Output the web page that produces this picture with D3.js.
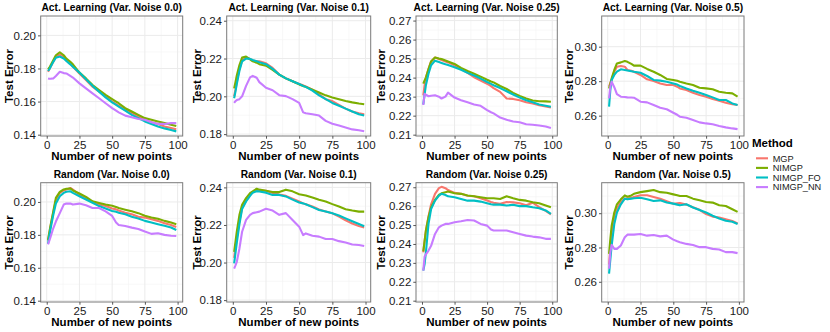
<!DOCTYPE html>
<html>
<head>
<meta charset="utf-8">
<script src="https://cdn.jsdelivr.net/npm/d3@7"></script>
<style>
  body { margin: 0; background: #fff; }
  svg { display: block; font-family: "Liberation Sans", Arial, Helvetica, sans-serif; }
</style>
</head>
<body>
<svg id="chart" width="830" height="332"></svg>
<script>
// DATA
var xs = [1, 2, 3, 5, 7, 10, 13, 15, 18, 20, 25, 30, 35, 40, 45, 50, 53, 55, 60, 65, 70, 75, 80, 85, 90, 95, 99];

var methods = ["MGP", "NIMGP", "NIMGP_FO", "NIMGP_NN"];

var titles = [
    "Act. Learning (Var. Noise 0.0)", "Act. Learning (Var. Noise 0.1)",
    "Act. Learning (Var. Noise 0.25)", "Act. Learning (Var. Noise 0.5)",
    "Random (Var. Noise 0.0)", "Random (Var. Noise 0.1)",
    "Random (Var. Noise 0.25)", "Random (Var. Noise 0.5)"
];

var xTicks = [0, 25, 50, 75, 100];
var yTicksByCol = [
    [0.14, 0.16, 0.18, 0.20],
    [0.18, 0.20, 0.22, 0.24],
    [0.21, 0.22, 0.23, 0.24, 0.25, 0.26, 0.27],
    [0.26, 0.28, 0.30]
];
var yLimitsByCol = [
    [0.1392, 0.2117],
    [0.1790, 0.2425],
    [0.2093, 0.2724],
    [0.2482, 0.3178]
];

// each panel: [MGP, NIMGP, NIMGP_FO, NIMGP_NN]
var act00 = [
    [.178, .1795, .181, .184, .187, .1885, .187, .185, .183, .181, .177, .173, .169, .166, .163, .160, .1585, .1575, .155, .153, .151, .149, .1475, .1465, .145, .144, .1432],
    [.1795, .1805, .182, .185, .188, .1898, .188, .186, .184, .1825, .1775, .174, .170, .167, .164, .1615, .160, .159, .156, .154, .152, .150, .149, .148, .147, .146, .1452],
    [.1785, .1795, .181, .184, .1865, .1872, .186, .1845, .1825, .181, .1775, .1735, .1695, .166, .1625, .1595, .158, .157, .1545, .152, .150, .148, .1465, .145, .1438, .1428, .142],
    [.174, .1738, .1738, .174, .1755, .178, .1772, .177, .1755, .1745, .171, .168, .165, .162, .159, .156, .1545, .1535, .1515, .1505, .1495, .149, .1475, .1465, .1465, .147, .147]
];
var act01 = [
    [.200, .2035, .2075, .2145, .219, .2205, .2198, .219, .2185, .2185, .2175, .2150, .2115, .2095, .2080, .2065, .2058, .2052, .2035, .2010, .1985, .1975, .1955, .1935, .1920, .1910, .1905],
    [.2042, .2075, .211, .2165, .2205, .2210, .2195, .2185, .2178, .2170, .2162, .2140, .2115, .2095, .2080, .2063, .2055, .2050, .2035, .2020, .2005, .1994, .1985, .1975, .1968, .1962, .1958],
    [.199, .2025, .2065, .2135, .2185, .2200, .2198, .2192, .2185, .2180, .2170, .2145, .2115, .2095, .2080, .2065, .2055, .2050, .2030, .2005, .1985, .1965, .1950, .1935, .1920, .1905, .1898],
    [.1965, .1975, .1980, .1985, .200, .2055, .2100, .2108, .2098, .2075, .2045, .2032, .2006, .2001, .1985, .1965, .1915, .1910, .1905, .1898, .1870, .1855, .1845, .1835, .1825, .1820, .1815]
];
var act025 = [
    [.2307, .236, .240, .2445, .2485, .2506, .2498, .2492, .2485, .248, .2465, .2446, .2425, .2402, .2385, .2368, .2355, .2345, .2325, .229, .2288, .2281, .2270, .2264, .2255, .2248, .2243],
    [.2368, .2385, .240, .2445, .2485, .2506, .250, .2498, .249, .2485, .2472, .2451, .2435, .242, .2405, .2389, .238, .2375, .2356, .234, .232, .2304, .2290, .2280, .2276, .2275, .2273],
    [.2259, .231, .236, .242, .2465, .2489, .2482, .2477, .247, .2466, .2455, .2441, .2425, .2411, .2395, .2377, .2367, .236, .2345, .2328, .2311, .2295, .2281, .2270, .2259, .2252, .2247],
    [.2256, .2315, .231, .2302, .2305, .2307, .230, .229, .230, .2321, .2295, .2281, .2270, .2259, .2252, .2229, .2218, .2212, .219, .2178, .2169, .2165, .2155, .2152, .2148, .2143, .2135]
];
var act05 = [
    [.2768, .279, .281, .2855, .2884, .2888, .2884, .2865, .286, .2855, .2836, .2811, .2801, .2787, .2778, .2778, .2768, .2758, .2749, .2733, .272, .271, .2697, .2687, .2675, .2666, .2662],
    [.2758, .2785, .2816, .2865, .2903, .2909, .2917, .2912, .290, .289, .289, .2871, .2855, .2836, .2813, .2807, .2802, .2797, .2787, .2778, .2762, .2758, .2753, .2739, .2733, .2729, .2710],
    [.2652, .275, .2807, .2836, .2855, .2869, .2865, .2862, .2858, .2855, .2849, .283, .2807, .2803, .2797, .2787, .2780, .2772, .2758, .2745, .2733, .272, .2706, .2691, .2691, .2671, .2662],
    [.270, .2770, .2797, .2765, .2725, .271, .2708, .2706, .2705, .2704, .2681, .2677, .2662, .2646, .2637, .2617, .2605, .2594, .2588, .2575, .2561, .2555, .255, .254, .2532, .2526, .2522]
];
var rnd00 = [
    [.1765, .181, .1855, .1935, .201, .2055, .207, .2075, .2085, .2075, .2045, .2025, .200, .1985, .1975, .196, .1955, .1948, .1935, .1925, .191, .1905, .1895, .1885, .187, .186, .1848],
    [.1769, .1815, .1861, .1943, .2025, .2061, .2076, .208, .2082, .207, .2051, .2031, .2004, .1994, .1984, .1977, .197, .1963, .1953, .1943, .1932, .1916, .1906, .1898, .1885, .1875, .1865],
    [.1745, .1795, .184, .192, .199, .2035, .2055, .2062, .2065, .2055, .2035, .2015, .1995, .1975, .196, .1945, .194, .1935, .1925, .191, .19, .1885, .1875, .1865, .1855, .1845, .183],
    [.1742, .1765, .1789, .184, .1881, .1932, .1984, .199, .199, .1984, .199, .198, .1963, .1963, .1943, .1915, .1875, .186, .1854, .1844, .1836, .182, .1806, .181, .18, .1795, .1793]
];
var rnd01 = [
    [.2025, .208, .213, .222, .229, .233, .2365, .2375, .2385, .2385, .2382, .237, .2362, .2355, .234, .2325, .2315, .231, .2298, .2282, .2272, .2262, .2245, .2225, .2208, .2195, .2187],
    [.2057, .211, .2164, .2254, .2307, .2343, .237, .2379, .2393, .2388, .2382, .2375, .2375, .2388, .2379, .2364, .236, .2357, .2346, .2334, .2325, .2311, .2298, .2284, .2277, .2271, .2271],
    [.1995, .205, .2105, .2205, .2285, .2325, .2355, .2372, .238, .2378, .2372, .236, .236, .2352, .2335, .232, .2315, .231, .2295, .228, .2272, .2262, .225, .2235, .222, .2205, .2193],
    [.1968, .1985, .2004, .2075, .2164, .2227, .2254, .2263, .2268, .2271, .2286, .2277, .2254, .2263, .2227, .2191, .2146, .2155, .2143, .2138, .2125, .2125, .2114, .2107, .2096, .2093, .2088]
];
var rnd025 = [
    [.2355, .2415, .247, .2545, .261, .2665, .2695, .2702, .2695, .2685, .267, .2665, .2655, .2652, .2642, .263, .2622, .2618, .2612, .2622, .262, .2615, .2605, .2618, .2595, .2575, .2556],
    [.2361, .2415, .2471, .2541, .2594, .2633, .2659, .2668, .2674, .2677, .2668, .2665, .2656, .2652, .2647, .2642, .2642, .2642, .2638, .2652, .2642, .2633, .2629, .2621, .2615, .2603, .2594],
    [.2259, .2294, .2356, .2506, .2585, .2629, .2656, .2665, .2659, .2652, .2647, .2638, .2629, .2629, .2624, .2615, .261, .2608, .2608, .2603, .2607, .26, .26, .2594, .2589, .2577, .2559],
    [.2259, .2333, .2345, .2365, .239, .2453, .2488, .2497, .2506, .2506, .2515, .252, .2527, .2524, .2506, .2497, .2476, .2471, .2471, .2471, .2462, .2453, .2444, .2439, .2435, .2427, .2427]
];
var rnd05 = [
    [.270, .280, .289, .2985, .303, .3065, .3085, .3085, .309, .3095, .3105, .3105, .3095, .3085, .307, .3055, .3058, .306, .305, .3035, .302, .2995, .298, .2975, .2965, .2955, .294],
    [.2763, .285, .2927, .3004, .3052, .3081, .3104, .3096, .3104, .3113, .3123, .3129, .3135, .3123, .3119, .311, .3105, .31, .31, .3085, .3075, .3065, .3062, .3046, .3042, .3023, .3008],
    [.2648, .273, .2812, .2937, .3004, .3052, .3085, .3081, .3085, .3087, .309, .3081, .3071, .3075, .3062, .3056, .305, .3046, .3052, .3033, .3019, .3004, .2985, .2969, .2956, .295, .2937],
    [.2677, .2773, .2815, .2792, .2792, .2812, .286, .2875, .2875, .2875, .2879, .2869, .2873, .2865, .2869, .2846, .2836, .2831, .2821, .2815, .2802, .2802, .2792, .2788, .2773, .2773, .2767]
];

var panelData = [act00, act01, act025, act05, rnd00, rnd01, rnd025, rnd05];

// LAYOUT
var colors = d3.scaleOrdinal().domain(methods).range(["#F8766D", "#7CAE00", "#00BFC4", "#C77CFF"]);
var colLeft = [40.7, 226.7, 416, 601.7],
    colRight = [182.7, 370.7, 557.3, 744],
    yTitleX = [8.7, 197, 381.3, 568.5];
var rowTop = [16, 182.7],
    rowBottom = [136, 302];

var svg = d3.select("#chart");

function minorBreaks(ticks, dom) {
    var step = ticks[1] - ticks[0], res = [];
    for (var i = -1; i < ticks.length; i++) {
        var m = ticks[0] + step * (i + 0.5);
        if (m > Math.min(dom[0], dom[1]) && m < Math.max(dom[0], dom[1])) res.push(m);
    }
    return res;
}

panelData.forEach(function (series, i) {
    var col = i % 4, row = Math.floor(i / 4);
    var L = colLeft[col], R = colRight[col], T = rowTop[row], B = rowBottom[row];

    var x = d3.scaleLinear().domain([-4.6, 103.9]).range([L, R]);
    var y = d3.scaleLinear().domain(yLimitsByCol[col]).range([B, T]);
    var yTicks = yTicksByCol[col];

    var g = svg.append("g");

    // panel background + grid
    g.append("rect").attr("x", L).attr("y", T).attr("width", R - L).attr("height", B - T).attr("fill", "#fff");

    g.selectAll(".minx").data(minorBreaks(xTicks, x.domain())).enter().append("line")
        .attr("x1", d => x(d)).attr("x2", d => x(d)).attr("y1", T).attr("y2", B)
        .attr("stroke", "#F3F3F3").attr("stroke-width", 0.6);
    g.selectAll(".miny").data(minorBreaks(yTicks, y.domain())).enter().append("line")
        .attr("y1", d => y(d)).attr("y2", d => y(d)).attr("x1", L).attr("x2", R)
        .attr("stroke", "#F3F3F3").attr("stroke-width", 0.6);
    g.selectAll(".majx").data(xTicks).enter().append("line")
        .attr("x1", d => x(d)).attr("x2", d => x(d)).attr("y1", T).attr("y2", B)
        .attr("stroke", "#EBEBEB").attr("stroke-width", 1);
    g.selectAll(".majy").data(yTicks).enter().append("line")
        .attr("y1", d => y(d)).attr("y2", d => y(d)).attr("x1", L).attr("x2", R)
        .attr("stroke", "#EBEBEB").attr("stroke-width", 1);

    // lines
    var line = d3.line()
        .x((d, k) => x(xs[k]))
        .y(d => y(d));
    g.selectAll(".series").data(series).enter().append("path")
        .attr("d", d => line(d))
        .attr("fill", "none")
        .attr("stroke", (d, k) => colors(methods[k]))
        .attr("stroke-width", 2.1)
        .attr("stroke-linejoin", "round");

    // border
    g.append("rect").attr("x", L).attr("y", T).attr("width", R - L).attr("height", B - T)
        .attr("fill", "none").attr("stroke", "#7a7a7a").attr("stroke-width", 1);

    // axes
    var xAx = g.append("g")
        .attr("transform", "translate(0," + B + ")")
        .call(d3.axisBottom(x).tickValues(xTicks).tickSize(2.7).tickPadding(2.5));
    var yAx = g.append("g")
        .attr("transform", "translate(" + L + ",0)")
        .call(d3.axisLeft(y).tickValues(yTicks).tickFormat(d3.format(".2f")).tickSize(2.7).tickPadding(2));
    [xAx, yAx].forEach(function (a) {
        a.select(".domain").remove();
        a.selectAll("line").attr("stroke", "#555");
        a.selectAll("text").attr("fill", "#1a1a1a").style("font-size", "11.5px")
            .style("font-family", "'Liberation Sans', Arial, sans-serif");
    });

    // strip title
    g.append("text")
        .attr("x", (L + R) / 2).attr("y", T - 5)
        .attr("text-anchor", "middle")
        .style("font-size", "10.2px").style("font-weight", "bold")
        .text(titles[i]);

    // axis titles
    g.append("text")
        .attr("x", (L + R) / 2).attr("y", B + 24)
        .attr("text-anchor", "middle")
        .style("font-size", "11.5px").style("font-weight", "bold")
        .text("Number of new points");
    g.append("text")
        .attr("transform", "translate(" + (yTitleX[col] + 4) + "," + ((T + B) / 2) + ")rotate(-90)")
        .attr("text-anchor", "middle")
        .style("font-size", "11.5px").style("font-weight", "bold")
        .text("Test Error");
});

// legend
var leg = svg.append("g");
leg.append("text").attr("x", 752).attr("y", 146.5)
    .style("font-size", "11.5px").style("font-weight", "bold").text("Method");
var items = leg.selectAll(".item").data(methods).enter().append("g")
    .attr("transform", (d, k) => "translate(0," + (158.3 + k * 9.6) + ")");
items.append("line").attr("x1", 756).attr("x2", 768).attr("y1", 0).attr("y2", 0)
    .attr("stroke", d => colors(d)).attr("stroke-width", 2.1);
items.append("text").attr("x", 772.7).attr("y", 0).attr("dy", "0.35em")
    .style("font-size", "9.2px").attr("fill", "#1a1a1a").text(d => d);
</script>
</body>
</html>
